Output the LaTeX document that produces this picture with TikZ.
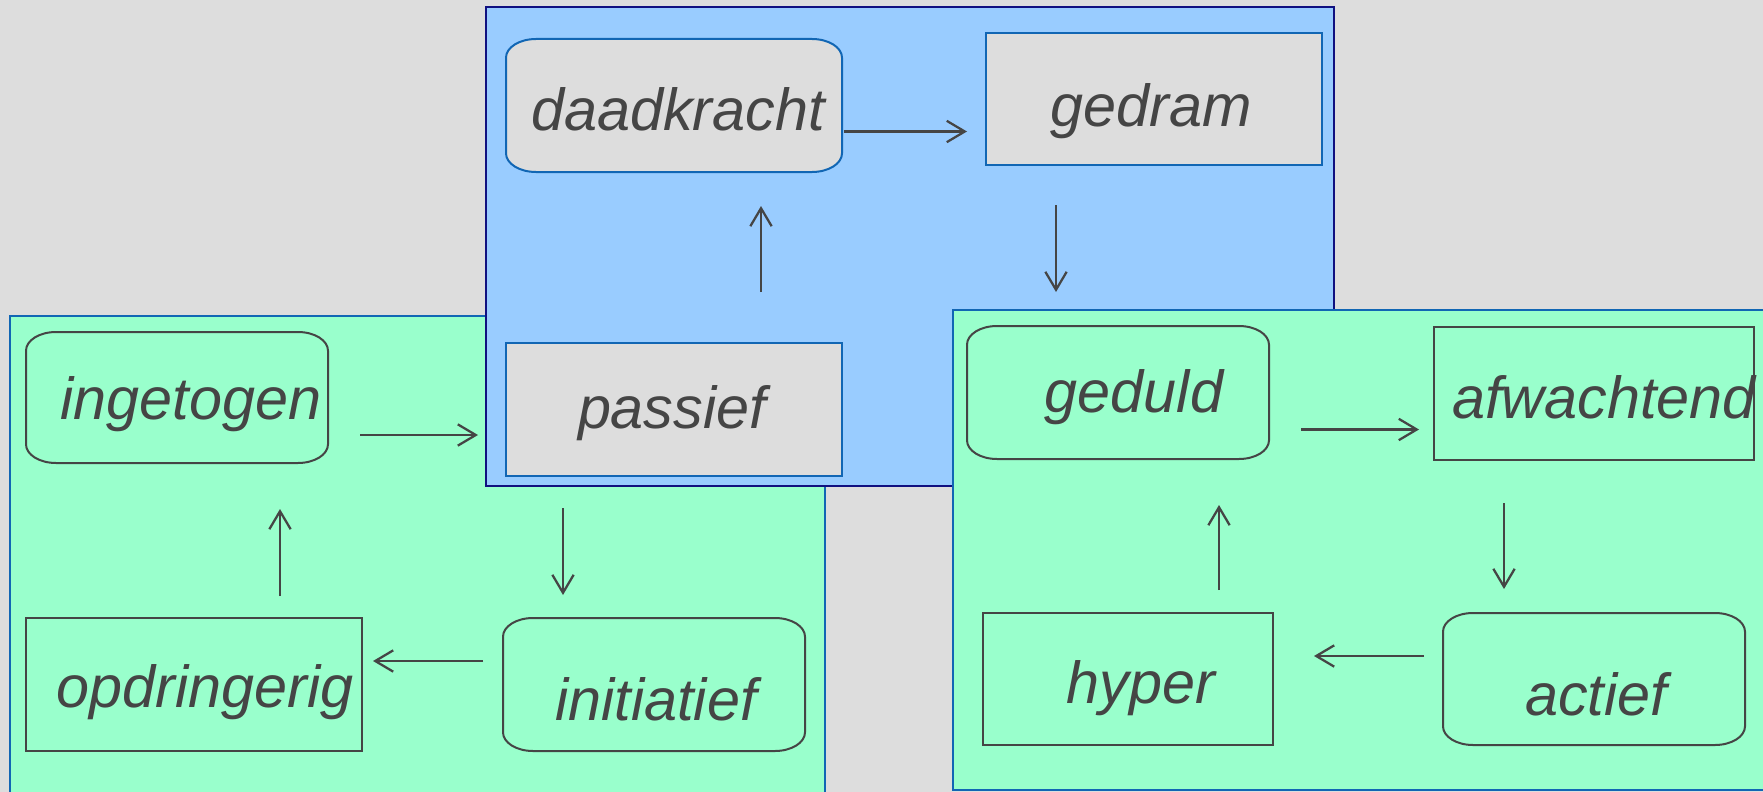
\documentclass[tikz,border=0pt]{standalone}
\usepackage{fontspec}
\setmainfont{Liberation Sans}
\usetikzlibrary{arrows.meta}

\definecolor{pagegray}{RGB}{221,221,221}
\definecolor{panelblue}{RGB}{153,204,255}
\definecolor{panelgreen}{RGB}{153,255,204}
\definecolor{navyline}{RGB}{16,16,128}
\definecolor{edgeblue}{RGB}{17,102,180}
\definecolor{inkgray}{RGB}{69,69,69}

% box with flattened elliptic corners
\makeatletter
\pgfdeclareshape{canshape}{%
  \inheritsavedanchors[from=rectangle]%
  \inheritanchorborder[from=rectangle]%
  \inheritanchor[from=rectangle]{center}%
  \inheritanchor[from=rectangle]{north}%
  \inheritanchor[from=rectangle]{south}%
  \inheritanchor[from=rectangle]{east}%
  \inheritanchor[from=rectangle]{west}%
  \backgroundpath{%
    \southwest \edef\can@xa{\the\pgf@x}\edef\can@ya{\the\pgf@y}%
    \northeast \edef\can@xb{\the\pgf@x}\edef\can@yb{\the\pgf@y}%
    \pgfpathmoveto{\pgfpoint{\can@xa+22.5pt}{\can@yb}}%
    \pgfpathlineto{\pgfpoint{\can@xb-22.5pt}{\can@yb}}%
    \pgfpatharc{90}{0}{22.5pt and 14pt}%
    \pgfpathlineto{\pgfpoint{\can@xb}{\can@ya+14pt}}%
    \pgfpatharc{0}{-90}{22.5pt and 14pt}%
    \pgfpathlineto{\pgfpoint{\can@xa+22.5pt}{\can@ya}}%
    \pgfpatharc{-90}{-180}{22.5pt and 14pt}%
    \pgfpathlineto{\pgfpoint{\can@xa}{\can@yb-14pt}}%
    \pgfpatharc{180}{90}{22.5pt and 14pt}%
    \pgfpathclose
  }%
}
\makeatother

\tikzset{every picture/.style={line width=0.75pt}}
\tikzset{
  boxwh/.style 2 args={minimum width=#1*0.75pt, minimum height=#2*0.75pt},
  sqbox/.style={rectangle, draw=#1, line width=1.5pt, inner sep=0pt, outer sep=0pt},
  canbox/.style={shape=canshape, draw=#1, line width=1.5pt, inner sep=0pt, outer sep=0pt},
  lbl/.style={anchor=base, inner sep=0pt, text=inkgray, font=\fontsize{44.5}{50}\selectfont\itshape},
  arr/.style={draw=inkgray, line width=1.7pt, -{Straight Barb[length=13.5pt,width=16pt]}}
}

\begin{document}
\begin{tikzpicture}[x=0.75pt,y=0.75pt,yscale=-1,xscale=1]
	\useasboundingbox (0,0) rectangle (1763,792);
	\fill [pagegray] (0,0) rectangle (1763,792);

	%Shape: Rectangle
	\draw [draw=edgeblue, fill=panelgreen, line width=1.5pt] (10,316) rectangle (825,800) ;
	%Shape: Rectangle
	\draw [draw=navyline, fill=panelblue, line width=1.5pt] (486,7) rectangle (1334,486) ;
	%Shape: Rectangle
	\draw [draw=edgeblue, fill=panelgreen, line width=1.5pt] (953,310) rectangle (1775,790) ;

	%Shape: Can
	\draw (674,105.5) node [canbox=edgeblue, fill=pagegray, boxwh={336}{133}] (daad) {};
	%Shape: Rectangle
	\draw (1154,99) node [sqbox=edgeblue, fill=pagegray, boxwh={336}{132}] (gedram) {};
	%Shape: Rectangle
	\draw (674,409.5) node [sqbox=edgeblue, fill=pagegray, boxwh={336}{133}] (passief) {};
	%Shape: Can
	\draw (177,397.5) node [canbox=inkgray, fill=panelgreen, boxwh={302}{131}] (ingetogen) {};
	%Shape: Rectangle
	\draw (194,684.5) node [sqbox=inkgray, fill=panelgreen, boxwh={336}{133}] (opdringerig) {};
	%Shape: Can
	\draw (654,684.5) node [canbox=inkgray, fill=panelgreen, boxwh={302}{133}] (initiatief) {};
	%Shape: Can
	\draw (1118,392.5) node [canbox=inkgray, fill=panelgreen, boxwh={302}{133}] (geduld) {};
	%Shape: Rectangle
	\draw (1594,393.5) node [sqbox=inkgray, fill=panelgreen, boxwh={320}{133}] (afwachtend) {};
	%Shape: Rectangle
	\draw (1128,679) node [sqbox=inkgray, fill=panelgreen, boxwh={290}{132}] (hyper) {};
	%Shape: Can
	\draw (1594,679) node [canbox=inkgray, fill=panelgreen, boxwh={302}{132}] (actief) {};

	%Straight Lines
	\draw [arr, shorten <=1.5pt, shorten >=14.25pt] (daad.east |- 0,131.5) -- (gedram.west |- 0,131.5) ;
	\draw [arr, shorten <=30pt, shorten >=25.5pt] (gedram.south -| 1056,0) -- (geduld.north -| 1056,0) ;
	\draw [arr, shorten <=38.25pt, shorten >=25.5pt] (passief.north -| 761,0) -- (daad.south -| 761,0) ;
	\draw [arr, shorten <=24pt, shorten >=21pt] (ingetogen.east |- 0,435) -- (passief.west |- 0,435) ;
	\draw [arr, shorten <=24pt, shorten >=17.25pt] (passief.south -| 563,0) -- (initiatief.north -| 563,0) ;
	\draw [arr, shorten <=15pt, shorten >=8.25pt] (initiatief.west |- 0,661) -- (opdringerig.east |- 0,661) ;
	\draw [arr, shorten <=16.5pt, shorten >=34.5pt] (opdringerig.north -| 280,0) -- (ingetogen.south -| 280,0) ;
	\draw [arr, shorten <=24pt, shorten >=11.25pt] (geduld.east |- 0,429.5) -- (afwachtend.west |- 0,429.5) ;
	\draw [arr, shorten <=32.25pt, shorten >=18pt] (afwachtend.south -| 1504,0) -- (actief.north -| 1504,0) ;
	\draw [arr, shorten <=14.25pt, shorten >=30.75pt] (actief.west |- 0,656) -- (hyper.east |- 0,656) ;
	\draw [arr, shorten <=17.25pt, shorten >=34.5pt] (hyper.north -| 1219,0) -- (geduld.south -| 1219,0) ;

	% Text Node
	\draw (678,130) node [lbl] (daadtxt) {daadkracht};
	% Text Node
	\draw (1151,127) node [lbl] (gedramtxt) {gedram};
	% Text Node
	\draw (672,428) node [lbl] (passieftxt) {passief};
	% Text Node
	\draw (191,419) node [lbl] (ingetogentxt) {ingetogen};
	% Text Node
	\draw (205,707) node [lbl] (opdringerigtxt) {opdringerig};
	% Text Node
	\draw (656,720) node [lbl] (initiatieftxt) {initiatief};
	% Text Node
	\draw (1134,412) node [lbl] (geduldtxt) {geduld};
	% Text Node
	\draw (1604,418) node [lbl] (afwachtendtxt) {afwachtend};
	% Text Node
	\draw (1141,703) node [lbl] (hypertxt) {hyper};
	% Text Node
	\draw (1596,715) node [lbl] (actieftxt) {actief};

\end{tikzpicture}
\end{document}
